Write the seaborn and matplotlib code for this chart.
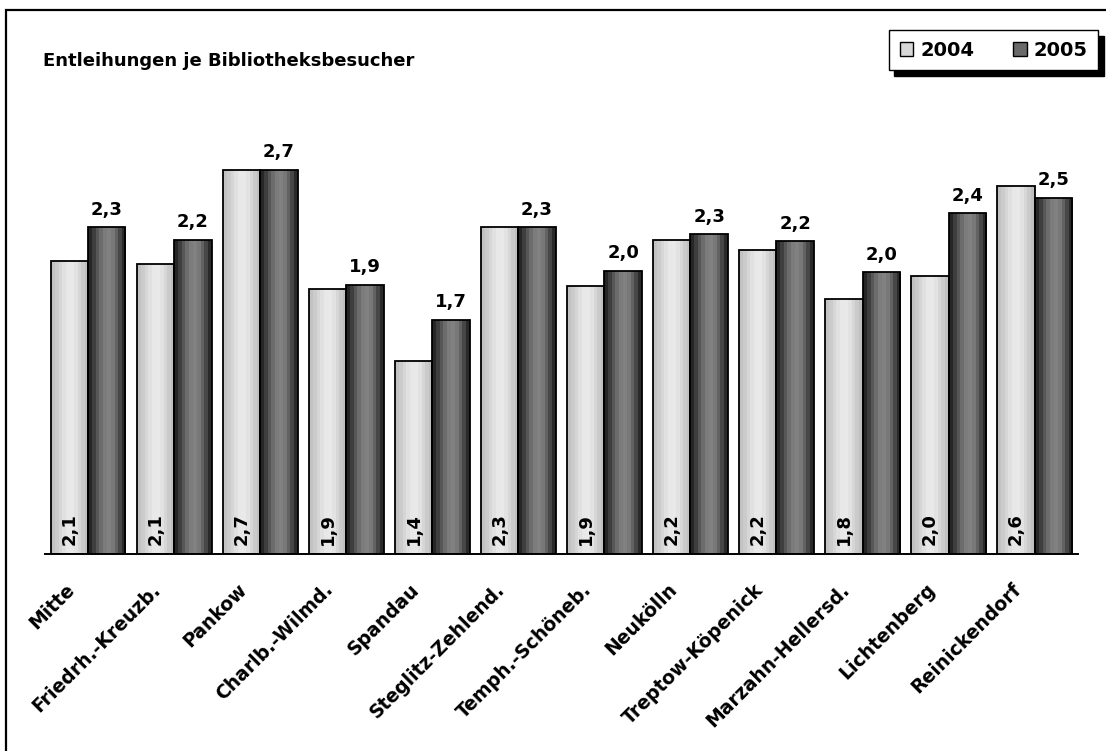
import numpy as np
import pandas as pd
import matplotlib
matplotlib.use("Agg")
import matplotlib.pyplot as plt
import seaborn as sns
from matplotlib.colors import to_rgb
from matplotlib.patches import Patch, Rectangle
from matplotlib.transforms import ScaledTranslation

# ========== Daten ==========
bezirke = [
    "Mitte", "Friedrh.-Kreuzb.", "Pankow", "Charlb.-Wilmd.", "Spandau",
    "Steglitz-Zehlend.", "Temph.-Schöneb.", "Neukölln", "Treptow-Köpenick",
    "Marzahn-Hellersd.", "Lichtenberg", "Reinickendorf",
]
jahre = ["2004", "2005"]
werte_2004 = [2.09, 2.07, 2.74, 1.89, 1.38, 2.33, 1.91, 2.24, 2.17, 1.82, 1.98, 2.62]
werte_2005 = [2.33, 2.24, 2.74, 1.92, 1.67, 2.33, 2.02, 2.28, 2.23, 2.01, 2.43, 2.54]

titel = "Entleihungen je Bibliotheksbesucher"

# Farbbaender fuer den Zylinder-Effekt (links -> rechts)
HELL = ["#c2c2c2", "#cbcbcb", "#d6d6d6", "#e0e0e0", "#e8e8e8", "#e9e9e9",
        "#e2e2e2", "#d6d6d6", "#cacaca", "#c0c0c0"]
DUNKEL = ["#262626", "#3e3e3e", "#575757", "#6c6c6c", "#7c7c7c", "#818181",
          "#787878", "#626262", "#474747", "#2a2a2a"]

df = pd.DataFrame({
    "Bezirk": bezirke * 2,
    "Jahr": [jahre[0]] * len(bezirke) + [jahre[1]] * len(bezirke),
    "Wert": werte_2004 + werte_2005,
})

sns.set_theme(style="white")
plt.rcParams["font.family"] = ["DejaVu Sans"]
plt.rcParams["font.weight"] = "bold"
plt.rcParams["text.color"] = "black"
plt.rcParams["xtick.color"] = "black"
plt.rcParams["xtick.labelcolor"] = "black"

fig = plt.figure(figsize=(11.06, 7.51), dpi=100)
ax = fig.add_axes([45 / 1106, 1 - 554.3 / 751, 1032.7 / 1106, 421.2 / 751])

sns.barplot(
    data=df, x="Bezirk", y="Wert", hue="Jahr", hue_order=jahre,
    palette=["#d9d9d9", "#6e6e6e"], width=0.87, errorbar=None,
    edgecolor="black", linewidth=1.3, legend=False, ax=ax,
)

# ========== Verlauf in die Balken ==========
n = len(bezirke)
for k, p in enumerate(ax.patches):
    bands = HELL if k < n else DUNKEL
    img = np.array([[to_rgb(c) for c in bands]])
    x0, w, h = p.get_x(), p.get_width(), p.get_height()
    im = ax.imshow(img, extent=(x0, x0 + w, 0, h), aspect="auto",
                   interpolation="nearest", zorder=p.get_zorder() - 0.1)
    im.set_clip_path(p)
    p.set_facecolor("none")
    p.set_zorder(p.get_zorder() + 0.1)

# ========== Beschriftungen ==========
for k, p in enumerate(ax.patches):
    xc = p.get_x() + p.get_width() / 2
    txt = f"{p.get_height():.1f}".replace(".", ",")
    if k < n:
        ax.annotate(txt, (xc, 0), xytext=(0, 6.5), textcoords="offset points",
                    rotation=90, ha="center", va="bottom", fontsize=13,
                    fontweight="bold", color="black", zorder=5)
    else:
        ax.annotate(txt, (xc, p.get_height()), xytext=(0, 6),
                    textcoords="offset points", ha="center", va="bottom",
                    fontsize=13, fontweight="bold", color="black", zorder=5)

ax.set_xlim(-0.5, n - 0.5)
ax.set_ylim(0, 3.0)
ax.set_xlabel("")
ax.set_ylabel("")
ax.set_yticks([])
for s in ["left", "right", "top"]:
    ax.spines[s].set_visible(False)
ax.spines["bottom"].set_color("black")
ax.spines["bottom"].set_linewidth(1.4)
ax.spines["bottom"].set_zorder(6)

ax.tick_params(axis="x", length=0, pad=20)
ax.set_xticks(range(n))
ax.set_xticklabels(bezirke, rotation=45, ha="right", va="top",
                   rotation_mode="anchor", fontsize=13.5, fontweight="bold",
                   color="black")
shift = ScaledTranslation(-0.23, 0.02, fig.dpi_scale_trans)
for lbl in ax.get_xticklabels():
    lbl.set_transform(lbl.get_transform() + shift)

# ========== Titel & Legende ==========
fig.text(43 / 1106, 1 - 66 / 751, titel, ha="left", va="baseline",
         fontsize=13, fontweight="bold", color="black")

handles = [Patch(facecolor="#d8d8d8", edgecolor="black", linewidth=1),
           Patch(facecolor="#6a6a6a", edgecolor="black", linewidth=1)]
leg = fig.legend(
    handles, jahre, ncol=2, loc="upper right",
    bbox_to_anchor=(1098 / 1106, 1 - 30 / 751), borderaxespad=0,
    frameon=True, fancybox=False,
    shadow={"ox": 4, "oy": -4, "color": "black", "alpha": 1},
    prop={"size": 14, "weight": "bold"}, handlelength=0.7, handleheight=0.7,
    handletextpad=0.35, columnspacing=2.0, borderpad=0.55,
)
leg.get_frame().set_edgecolor("black")
leg.get_frame().set_linewidth(1.0)
for t in leg.get_texts():
    t.set_color("black")

# Rahmen um das Diagramm
fig.patches.append(Rectangle((6 / 1106, -0.05), 1.2, 1 - 10 / 751 + 0.05,
                             transform=fig.transFigure, fill=False,
                             edgecolor="black", linewidth=1.6))

fig.savefig("out.png", dpi=100)
